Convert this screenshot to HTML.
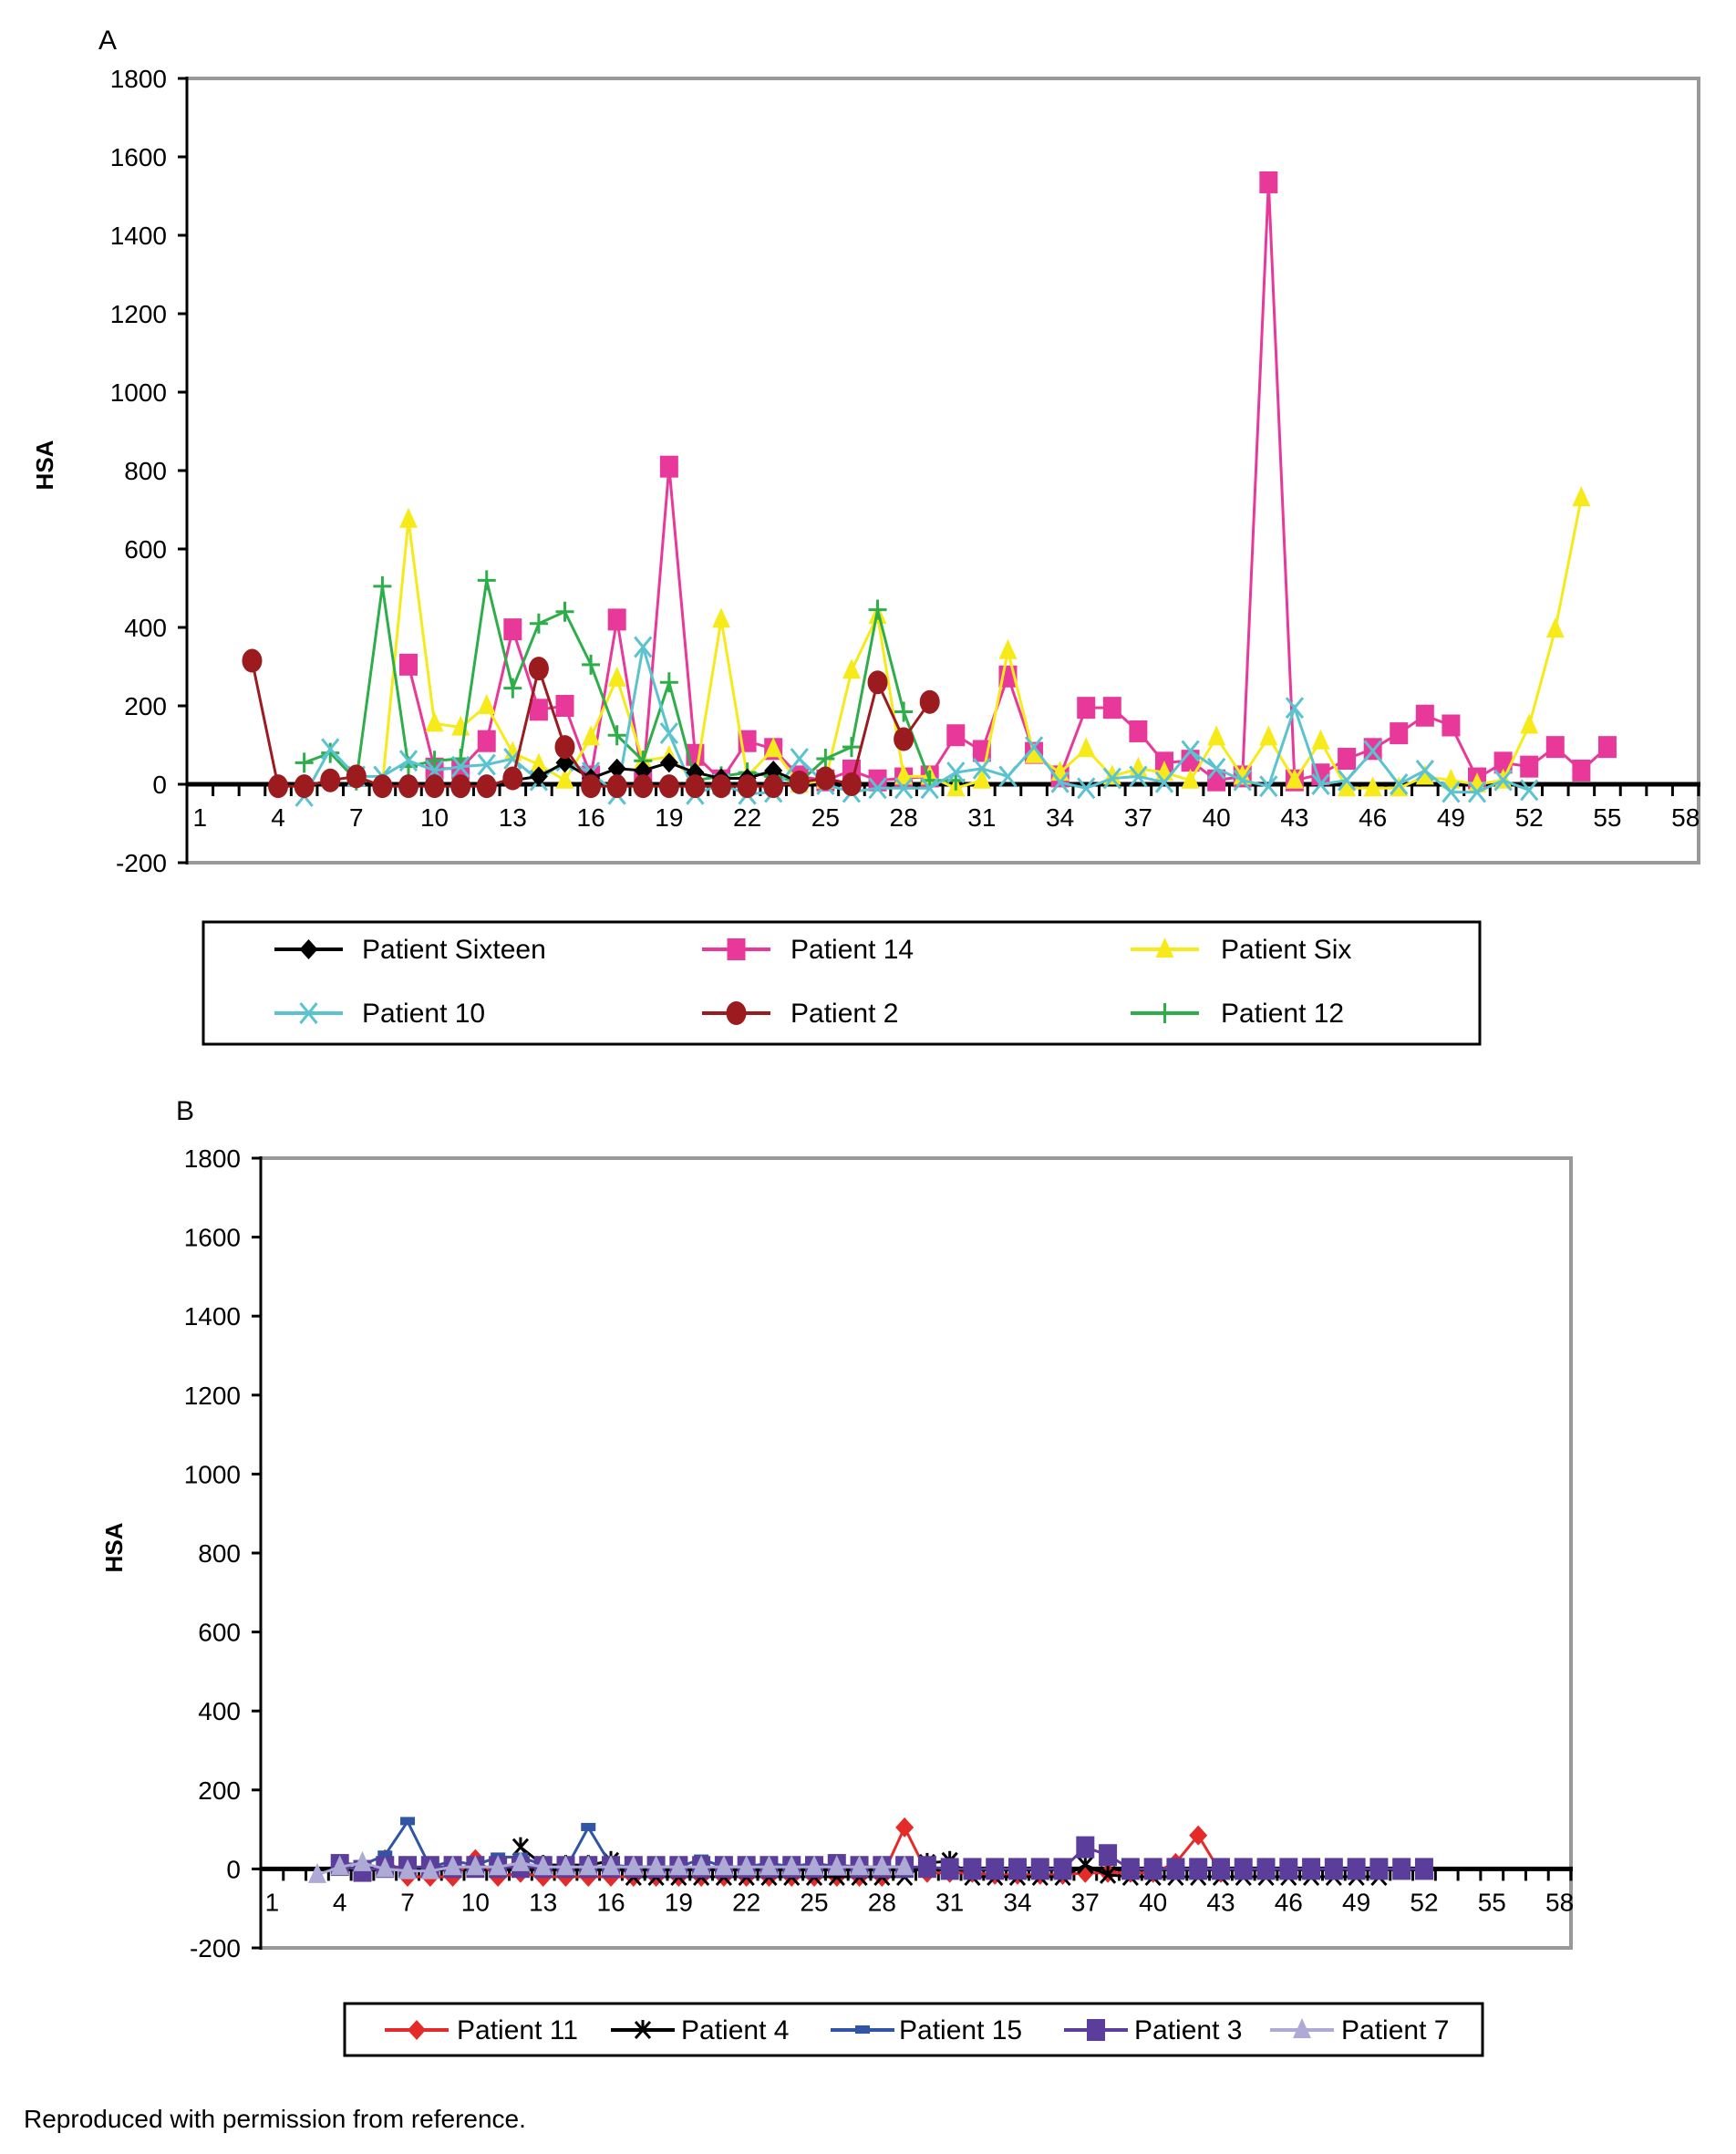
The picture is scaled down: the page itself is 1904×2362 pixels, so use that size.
<!DOCTYPE html>
<html><head><meta charset="utf-8">
<style>
html,body{margin:0;padding:0;background:#fff;}
svg{display:block;font-family:"Liberation Sans Narrow","Liberation Sans",sans-serif;}
</style></head>
<body>
<svg id="root" width="1904" height="2362" viewBox="0 0 1904 2362" xmlns="http://www.w3.org/2000/svg">
<text x="108" y="54" font-size="30">A</text>
<text x="193" y="1228" font-size="30">B</text>
<text x="26" y="2333" font-size="28">Reproduced with permission from reference.</text>
<g id="chartA"></g>
<g id="chartB"></g>
</svg>
<script>
// ---- Chart A data ----
const yTicks = [-200,0,200,400,600,800,1000,1200,1400,1600,1800];
const xTickLabels = [1,4,7,10,13,16,19,22,25,28,31,34,37,40,43,46,49,52,55,58];
const a16Start = 13;
const a16Vals = [10,20,55,15,40,35,55,30,15,15,35,5];
const a14Start = 9;
const a14Vals = [305,40,40,110,395,190,200,20,420,10,810,75,10,110,90,20,10,35,10,15,20,125,85,275,80,20,195,195,135,55,60,10,20,1535,10,25,65,90,130,175,150,15,55,45,95,35,95];
const a6Start = 8;
const a6Vals = [0,675,155,145,200,80,50,10,120,270,60,70,10,420,20,90,0,10,290,430,20,20,-10,10,340,75,30,90,20,40,30,10,120,20,120,10,110,-10,-10,-10,20,10,0,10,150,395,730];
const a10Start = 5;
const a10Vals = [-30,90,20,20,60,35,45,50,65,10,60,30,-25,350,130,-25,0,-25,-20,65,0,-20,-10,-10,-10,30,40,20,95,5,-10,15,20,5,85,40,10,-5,195,0,10,85,0,35,-20,-20,10,-15];
const a2Start = 3;
const a2Vals = [315,-5,-5,10,20,-5,-5,-5,-5,-5,15,295,95,-5,-5,-5,-5,-5,-5,-5,-5,5,15,0,260,115,210];
const a12Start = 5;
const a12Vals = [55,80,10,505,45,60,65,520,245,410,440,305,125,60,260,10,20,30,20,5,65,95,445,185,10,10];
// ---- Chart B data ----
const b11Start = 6;
const b11Vals = [25,-20,-20,-20,25,-20,-10,-20,-20,-20,-20,-20,-20,-20,-20,-20,-20,-20,-20,-20,-20,-20,-20,105,-10,-10,-10,-15,-15,-15,-15,-10,-10,-10,-10,15,85,-10];
const b4Start = 12;
const b4Vals = [55,10,10,10,20,-20,-20,-20,-20,-20,-20,-20,-20,-20,-20,-20,-20,-20,15,20,-20,-20,-20,-20,-20,10,-15,-20,-20,-20,-20,-20,-20,-20,-20,-20,-20,-20,-20];
const b15Start = 4;
const b15Vals = [15,10,35,120,5,20,10,30,30,10,0,105,10,5,5,5,25,5,5,15,5,15,5,5,5,5];
const b3Start = 4;
const b3Vals = [10,-5,5,5,5,5,5,5,5,5,5,5,5,5,5,5,5,5,5,5,5,5,10,5,5,5,5,0,0,0,0,0,0,55,35,0,0,0,0,0,0,0,0,0,0,0,0,0,0];
const b7Start = 3;
const b7Vals = [-15,5,15,0,-5,-5,5,5,5,15,5,5,5,5,5,5,5,5,5,5,5,5,5,5,5,5,5];

const NS="http://www.w3.org/2000/svg";
function mk(parent,tag,attrs){const e=document.createElementNS(NS,tag);for(const k in attrs)e.setAttribute(k,attrs[k]);parent.appendChild(e);return e;}

function marker(g,type,x,y,color){
  let m;
  if(type==='diamond'){m=mk(g,'polygon',{points:`${x},${y-11} ${x+10},${y} ${x},${y+11} ${x-10},${y}`,fill:color});}
  else if(type==='square'){m=mk(g,'rect',{x:x-10,y:y-12,width:20,height:24,fill:color});}
  else if(type==='triangle'){m=mk(g,'polygon',{points:`${x},${y-13} ${x+10},${y+9} ${x-10},${y+9}`,fill:color});}
  else if(type==='circle'){m=mk(g,'ellipse',{cx:x,cy:y,rx:11,ry:13,fill:color});}
  else if(type==='x'){m=mk(g,'path',{d:`M${x-9},${y-11}L${x+9},${y+11}M${x+9},${y-11}L${x-9},${y+11}`,stroke:color,'stroke-width':3,fill:'none'});}
  else if(type==='plus'){m=mk(g,'path',{d:`M${x-10},${y}H${x+10}M${x},${y-11}V${y+11}`,stroke:color,'stroke-width':3,fill:'none'});}
  else if(type==='star'){m=mk(g,'path',{d:`M${x-8},${y-9}L${x+8},${y+9}M${x+8},${y-9}L${x-8},${y+9}M${x},${y-11}V${y}`,stroke:color,'stroke-width':3,fill:'none'});}
  else if(type==='dash'){m=mk(g,'rect',{x:x-8,y:y-5,width:16,height:9,fill:color});}
  return m;
}

function chart(gid,cfg,series){
  const g=document.getElementById(gid);
  const {L,R,T,B,ymin,ymax,n}=cfg;
  const ys=v=>B-(v-ymin)/(ymax-ymin)*(B-T);
  const cw=(R-L)/n;
  const xs=i=>L+(i-0.5)*cw;
  const fr=mk(g,'path',{d:`M${L},${T}H${R}V${B}H${L}`,stroke:'#999',fill:'none','stroke-width':4});
  
  
  const ya=mk(g,'line',{x1:L,y1:T-2,x2:L,y2:B+2,stroke:'#000','stroke-width':3});
  
  
  yTicks.forEach(v=>{
    mk(g,'line',{x1:L-10,y1:ys(v),x2:L,y2:ys(v),stroke:'#000','stroke-width':3});
    const t=mk(g,'text',{x:L-22,y:ys(v)+10,'font-size':28,'text-anchor':'end'});
    t.textContent=v;
    
    
  });
  const y0=ys(0);
  const xa=mk(g,'line',{x1:L,y1:y0,x2:R+2,y2:y0,stroke:'#000','stroke-width':5});
  
  
  for(let i=0;i<=n;i++){mk(g,'line',{x1:L+i*cw,y1:y0,x2:L+i*cw,y2:y0+13,stroke:'#000','stroke-width':3});}
  xTickLabels.forEach(c=>{
    const t=mk(g,'text',{x:xs(c),y:y0+46,'font-size':28,'text-anchor':'middle'});
    t.textContent=c;
    
    
  });
  const ht=mk(g,'text',{x:0,y:0,'font-size':26,'font-weight':'bold','font-family':'Liberation Sans, sans-serif','text-anchor':'middle',transform:`translate(${cfg.hx},${(T+B)/2-6}) rotate(-90)`});
  ht.textContent='HSA';
  
  
  series.forEach(s=>{
    const sg=mk(g,'g',{});
    
    
    const pts=s.vals.map((v,k)=>[xs(s.start+k),ys(v)]);
    mk(sg,'polyline',{points:pts.map(p=>p.join(',')).join(' '),fill:'none',stroke:s.color,'stroke-width':3});
    pts.forEach(p=>{const m=marker(sg,s.m,p[0],p[1],s.color);
      
      });
  });
}

const seriesA=[
 {name:'patient-14-series',start:a14Start,vals:a14Vals,color:'#e8399a',m:'square'},
 {name:'patient-six-series',start:a6Start,vals:a6Vals,color:'#f7ea1a',m:'triangle'},
 {name:'patient-12-series',start:a12Start,vals:a12Vals,color:'#2eae4a',m:'plus'},
 {name:'patient-10-series',start:a10Start,vals:a10Vals,color:'#5bc3d0',m:'x'},
 {name:'patient-sixteen-series',start:a16Start,vals:a16Vals,color:'#000',m:'diamond'},
 {name:'patient-2-series',start:a2Start,vals:a2Vals,color:'#9b1b1f',m:'circle'}
];
chart('chartA',{L:205,R:1863,T:86,B:946,ymin:-200,ymax:1800,n:58,hx:58},seriesA);

const seriesB=[
 {name:'patient-11-series',start:b11Start,vals:b11Vals,color:'#e52a2a',m:'diamond'},
 {name:'patient-4-series',start:b4Start,vals:b4Vals,color:'#000',m:'star'},
 {name:'patient-15-series',start:b15Start,vals:b15Vals,color:'#2f55a4',m:'dash'},
 {name:'patient-3-series',start:b3Start,vals:b3Vals,color:'#5b3e9b',m:'square'},
 {name:'patient-7-series',start:b7Start,vals:b7Vals,color:'#aeaad6',m:'triangle'}
];
chart('chartB',{L:286,R:1723,T:1270,B:2136,ymin:-200,ymax:1800,n:58,hx:134},seriesB);

const root=document.getElementById('root');
function legendBox(x,y,w,h,name){const r=mk(root,'rect',{x:x,y:y,width:w,height:h,fill:'#fff',stroke:'#000','stroke-width':3});
 
 }
function legendEntry(lx,ly,len,tx,label,s){
 const g=mk(root,'g',{});
 
 
 mk(g,'line',{x1:lx,y1:ly,x2:lx+len,y2:ly,stroke:s.color,'stroke-width':4});
 marker(g,s.m,lx+len/2,ly,s.color);
 const t=mk(g,'text',{x:tx,y:ly+10,'font-size':30});t.textContent=label;
}
legendBox(223,1011,1400,134,'legend-a');
const la=[['Patient Sixteen',seriesA[4],301,1041,397],['Patient 14',seriesA[0],770,1041,867],['Patient Six',seriesA[1],1240,1041,1339],
 ['Patient 10',seriesA[3],301,1111,397],['Patient 2',seriesA[5],770,1111,867],['Patient 12',seriesA[2],1240,1111,1339]];
la.forEach(e=>legendEntry(e[2],e[3],75,e[4],e[0],e[1]));
legendBox(378,2197,1248,57,'legend-b');
const lb=[['Patient 11',seriesB[0],422,501],['Patient 4',seriesB[1],670,747],['Patient 15',seriesB[2],911,986],['Patient  3',seriesB[3],1167,1244],['Patient  7',seriesB[4],1393,1471]];
lb.forEach(e=>legendEntry(e[2],2226,70,e[3],e[0],e[1]));
</script>
</body></html>
